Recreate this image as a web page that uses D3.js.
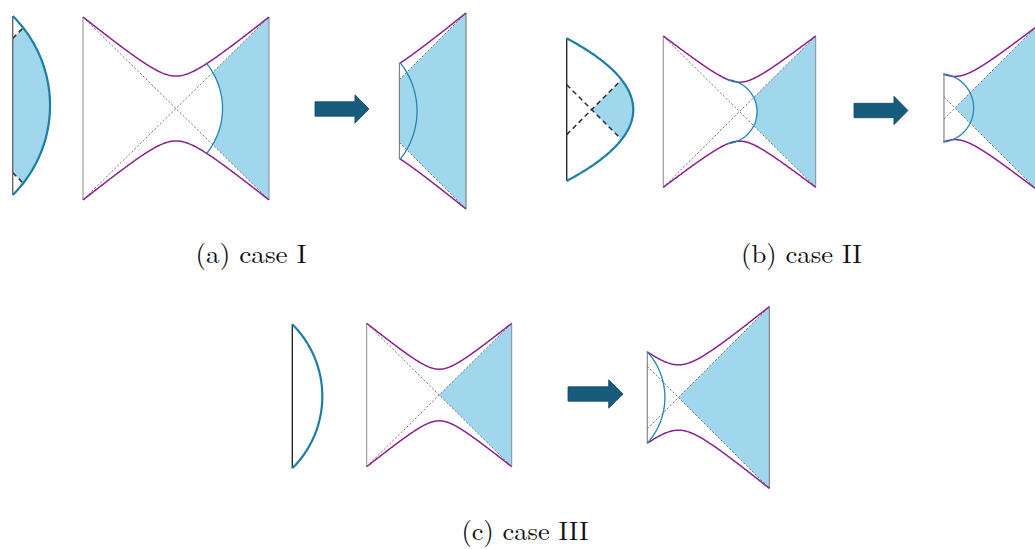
<!DOCTYPE html>
<html>
<head>
<meta charset="utf-8">
<script src="https://cdn.jsdelivr.net/npm/d3@7"></script>
<style>
  body { margin: 0; background: #fff; }
  svg { display: block; }
</style>
</head>
<body>
<svg id="fig" width="1035" height="549"></svg>
<script>
// ---- figure content -------------------------------------------------------
const captions = ["(a) case I", "(b) case II", "(c) case III"];
// how far each singularity curve dips toward the centre (unit half-height)
const singularityDip = [0.645, 0.61, 0.64];
// extremal-surface arc: x where it meets the singularity, x of its turning point
const arcEndX = [0.33, -0.15, -0.344];
const arcPeakX = [0.50, 0.23, -0.15];
// whether the arc already appears in the first diagram of the panel
const arcInFirst = [true, true, false];
// x at which the second diagram is cut off on the left
const cutX = [0.32, -0.136, -0.344];
// boundary sketches on the left: shape of the curve and how far it bulges
const boundaryShape = ["circle", "parabola", "circle"];
const boundaryBulge = [0.417, 0.933, 0.417];
// light rays inside each boundary sketch: starting height on the vertical edge
const boundaryRayStart = [0.75, 0.35, null];
const boundaryRayMode = ["outward", "crossing", null];

// ---- placement on the page ------------------------------------------------
const layout = {
  boundary: [
    { x0: 12.7, y: [195, 16] },
    { x0: 566.7, y: [181, 38.3] },
    { x0: 292.3, y: [468.3, 324.3] }
  ],
  penrose: [
    { x: [83, 269], y: [200, 17] },
    { x: [663.3, 815.7], y: [187.3, 36] },
    { x: [366.7, 511.7], y: [466.7, 323.3] }
  ],
  after: [
    { x: [270, 466], y: [209, 13] },
    { x: [874, 1036], y: [189, 27] },
    { x: [587.7, 769.3], y: [488.3, 306.7] }
  ],
  arrow: [
    { x: [315, 369], y: 109 },
    { x: [854, 908], y: 110.5 },
    { x: [568, 623], y: 394 }
  ],
  caption: [
    { x: 251, y: 263, w: 111 },
    { x: 801.5, y: 263, w: 121 },
    { x: 525, y: 540, w: 127 }
  ]
};

const style = {
  fill: "#a0d7ed",
  arc: "#2286b2",
  boundaryCurve: "#1b7ea8",
  purple: "#8c1e8f",
  diag: "#6a6a6a",
  edge: "#8a8a8a",
  arrow: "#175c7c",
  arrowEdge: "#0f4763"
};

const svg = d3.select("#fig");
const E = 0.25; // rounding of the singularity curves near the middle

// ---- geometry in unit coordinates (y up) ----------------------------------
function singTop(x, d) {
  const f = (Math.sqrt(x * x + E * E) - E) / (Math.sqrt(1 + E * E) - E);
  return 1 - d + d * f;
}
function arcCircle(x1, xm, d) {
  const y1 = singTop(x1, d);
  const cx = (xm * xm - x1 * x1 - y1 * y1) / (2 * (xm - x1));
  return { cx, r: xm - cx, y1 };
}
function circleX(c, y) {
  return c.cx + Math.sqrt(Math.max(0, c.r * c.r - y * y));
}
function arcPoints(c, yFrom, yTo, n = 80) {
  return d3.range(n + 1).map(i => {
    const y = yFrom + (yTo - yFrom) * i / n;
    return [circleX(c, y), y];
  });
}
function bisect(f, a, b) {
  let fa = f(a);
  for (let i = 0; i < 60; i++) {
    const m = (a + b) / 2, fm = f(m);
    if ((fm > 0) === (fa > 0)) { a = m; fa = fm; } else { b = m; }
  }
  return (a + b) / 2;
}

// ---- one Penrose diagram --------------------------------------------------
function drawPenrose(box, i, after) {
  const sx = d3.scaleLinear().domain([-1, 1]).range(box.x);
  const sy = d3.scaleLinear().domain([-1, 1]).range(box.y);
  const line = d3.line().x(p => sx(p[0])).y(p => sy(p[1]));
  const g = svg.append("g");
  const d = singularityDip[i];
  const x0 = after ? cutX[i] : -1;
  const showArc = after || arcInFirst[i];
  const circ = showArc ? arcCircle(arcEndX[i], arcPeakX[i], d) : null;

  // entanglement wedge of the right exterior
  let wedge;
  if (after) {
    wedge = x0 > 0
      ? [[x0, x0], [1, 1], [1, -1], [x0, -x0]]
      : [[0, 0], [1, 1], [1, -1]];
  } else if (circ) {
    const yI = (circ.cx + Math.sqrt(2 * circ.r * circ.r - circ.cx * circ.cx)) / 2;
    wedge = arcPoints(circ, yI, -yI).concat([[1, -1], [1, 1]]);
  } else {
    wedge = [[0, 0], [1, 1], [1, -1]];
  }
  g.append("path").attr("d", line(wedge) + "Z").attr("fill", style.fill);

  // horizons
  g.append("path")
    .attr("d", line([[x0, x0], [1, 1]]) + line([[x0, -x0], [1, -1]]))
    .attr("fill", "none").attr("stroke", style.diag)
    .attr("stroke-width", 0.9).attr("stroke-dasharray", "2.2,1.8");

  // asymptotic boundaries / cut edge
  const yEdge = singTop(x0, d);
  g.append("path")
    .attr("d", line([[x0, yEdge], [x0, -yEdge]]) + line([[1, 1], [1, -1]]))
    .attr("fill", "none").attr("stroke", after ? "#6e6e6e" : style.edge)
    .attr("stroke-width", 1);

  // singularities
  const xs = d3.range(161).map(k => x0 + (1 - x0) * k / 160);
  const top = xs.map(x => [x, singTop(x, d)]);
  const bot = xs.map(x => [x, -singTop(x, d)]);
  g.append("path").attr("d", line(top) + line(bot))
    .attr("fill", "none").attr("stroke", style.purple).attr("stroke-width", 1.5);

  // extremal surface
  if (circ) {
    g.append("path").attr("d", line(arcPoints(circ, circ.y1, -circ.y1)))
      .attr("fill", "none").attr("stroke", style.arc).attr("stroke-width", 1.3);
  }
}

// ---- boundary sketch ------------------------------------------------------
function drawBoundary(box, i) {
  const half = (box.y[0] - box.y[1]) / 2;
  const sx = d3.scaleLinear().domain([0, 1]).range([box.x0, box.x0 + half]);
  const sy = d3.scaleLinear().domain([-1, 1]).range(box.y);
  const line = d3.line().x(p => sx(p[0])).y(p => sy(p[1]));
  const g = svg.append("g");
  const b = boundaryBulge[i];
  let curveX;
  if (boundaryShape[i] === "circle") {
    const c = { cx: (b * b - 1) / (2 * b) };
    c.r = b - c.cx;
    curveX = y => circleX(c, y);
  } else {
    curveX = y => b * (1 - y * y);
  }
  const curve = (yA, yB, n = 100) => d3.range(n + 1).map(k => {
    const y = yA + (yB - yA) * k / n;
    return [curveX(y), y];
  });

  const y0 = boundaryRayStart[i];
  let rays = null;
  if (boundaryRayMode[i] === "outward") {
    const t = bisect(t => curveX(y0 + t) - t, 0, 1);
    const up = [[0, y0], [t, y0 + t]];
    const dn = [[0, -y0], [t, -y0 - t]];
    const fill = [[0, y0], [t, y0 + t]].concat(curve(y0 + t, -y0 - t), [[t, -y0 - t], [0, -y0]]);
    g.append("path").attr("d", line(fill) + "Z").attr("fill", style.fill);
    rays = [up, dn];
  } else if (boundaryRayMode[i] === "crossing") {
    const t = bisect(t => curveX(t - y0) - t, y0, 2);
    const rise = [[0, -y0], [t, t - y0]];
    const fall = [[0, y0], [t, y0 - t]];
    const fill = [[y0, 0], [t, t - y0]].concat(curve(t - y0, y0 - t), [[t, y0 - t]]);
    g.append("path").attr("d", line(fill) + "Z").attr("fill", style.fill);
    rays = [rise, fall];
  }
  if (rays) {
    g.append("path").attr("d", rays.map(r => line(r)).join(""))
      .attr("fill", "none").attr("stroke", "#2b2b2b")
      .attr("stroke-width", 1.5).attr("stroke-dasharray", "5,3.5");
  }
  g.append("path").attr("d", line([[0, 1], [0, -1]]))
    .attr("stroke", i === 0 ? "#6a6a6a" : "#2a2a2a").attr("stroke-width", 1.4);
  g.append("path").attr("d", line(curve(1, -1)))
    .attr("fill", "none").attr("stroke", style.boundaryCurve).attr("stroke-width", 2.2);
}

// ---- arrow ----------------------------------------------------------------
const arrowShape = [[0, -0.507], [0.74, -0.507], [0.74, -1], [1, 0], [0.74, 1], [0.74, 0.507], [0, 0.507]];
function drawArrow(a) {
  const sx = d3.scaleLinear().domain([0, 1]).range(a.x);
  const sy = d3.scaleLinear().domain([-1, 1]).range([a.y - 14.2, a.y + 14.2]);
  const line = d3.line().x(p => sx(p[0])).y(p => sy(p[1]));
  svg.append("path").attr("d", line(arrowShape) + "Z")
    .attr("fill", style.arrow).attr("stroke", style.arrowEdge).attr("stroke-width", 0.8);
}

// ---- assemble the three panels --------------------------------------------
captions.forEach((cap, i) => {
  drawBoundary(layout.boundary[i], i);
  drawPenrose(layout.penrose[i], i, false);
  drawArrow(layout.arrow[i]);
  drawPenrose(layout.after[i], i, true);
  const c = layout.caption[i];
  svg.append("text")
    .attr("x", c.x).attr("y", c.y)
    .attr("text-anchor", "middle")
    .attr("textLength", c.w).attr("lengthAdjust", "spacingAndGlyphs")
    .attr("font-family", "'Latin Modern Roman','CMU Serif','Liberation Serif',serif")
    .attr("font-size", 26).attr("fill", "#111")
    .text(cap);
});
</script>
</body>
</html>
